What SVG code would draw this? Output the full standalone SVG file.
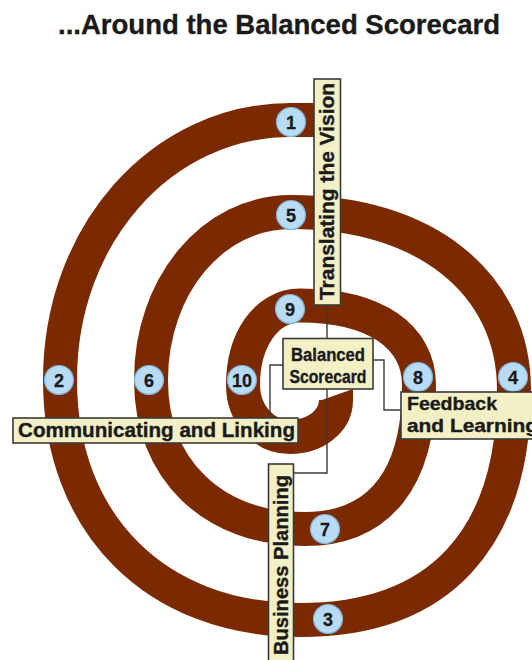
<svg xmlns="http://www.w3.org/2000/svg" width="532" height="660" viewBox="0 0 532 660">
<style>
.band{fill:none;stroke:#7b2a00;stroke-width:34;stroke-linecap:butt;stroke-linejoin:round}
.num circle{fill:#b8dcf6;stroke:#7fb0d6;stroke-width:1.2}
.num text{font-family:"Liberation Sans",Arial,sans-serif;font-weight:bold;font-size:18px;fill:#1a1a1a;text-anchor:middle;stroke:#1a1a1a;stroke-width:0.3}
.box{fill:#f2f0c4;stroke:#3a3a3a;stroke-width:1.6}
.lbl{font-family:"Liberation Sans",Arial,sans-serif;font-weight:bold;fill:#1a1a1a;stroke:#1a1a1a;stroke-width:0.35}
.conn{fill:none;stroke:#3a3a3a;stroke-width:1.4}
</style>
<rect width="532" height="660" fill="#ffffff"/>
<text x="58" y="34" class="lbl" font-size="28" textLength="442" lengthAdjust="spacingAndGlyphs">...Around the Balanced Scorecard</text>

<g id="spiral">
<path class="band" d="M330 120 L291 120 C161.6 120 60 234.4 60 380 C60 524 156 620 300 620 C439.1 620 514 539.5 514 390 C514 283.2 424.8 212 291 212 C212.6 212 151 285.9 151 380 C151 469.4 212.6 529 305 529 C379.1 529 419 478.6 419 385 C419 337.3 376 305.5 300 305.5 C266 305.5 243 340.5 243 385 C243 414.1 263.7 437 290 437 C315.8 437 336 420.7 336 400"/>
<polygon points="319,401 353,401 353,389" fill="#7b2a00"/>
</g>

<g id="numbers" class="num">
<g id="n1"><circle cx="291" cy="122" r="14.5"/><text x="291" y="128.5">1</text></g>
<g id="n2"><circle cx="59" cy="380" r="14.5"/><text x="59" y="386.5">2</text></g>
<g id="n3"><circle cx="328" cy="619" r="14.5"/><text x="328" y="625.5">3</text></g>
<g id="n4"><circle cx="513" cy="377" r="14.5"/><text x="513" y="383.5">4</text></g>
<g id="n5"><circle cx="291" cy="215" r="14.5"/><text x="291" y="221.5">5</text></g>
<g id="n6"><circle cx="149" cy="380" r="14.5"/><text x="149" y="386.5">6</text></g>
<g id="n7"><circle cx="325" cy="529" r="14.5"/><text x="325" y="535.5">7</text></g>
<g id="n8"><circle cx="418" cy="377" r="14.5"/><text x="418" y="383.5">8</text></g>
<g id="n9"><circle cx="290" cy="309" r="14.5"/><text x="290" y="315.5">9</text></g>
<g id="n10"><circle cx="242" cy="380" r="14.5"/><text x="242" y="386.5" font-size="17" textLength="20" lengthAdjust="spacingAndGlyphs">10</text></g>
</g>

<g id="connectors">
<path class="conn" d="M327 305 V338"/>
<path class="conn" d="M283 365 H270 V418"/>
<path class="conn" d="M327 389 V473 H293.5"/>
<path class="conn" d="M373 360 H384 V410 H401"/>
</g>

<g id="translating">
<rect class="box" x="314" y="79" width="26.5" height="226"/>
<text class="lbl" font-size="19.5" transform="translate(334,300) rotate(-90)" textLength="217" lengthAdjust="spacingAndGlyphs">Translating the Vision</text>
</g>

<g id="communicating">
<rect class="box" x="13" y="418" width="285" height="25"/>
<text class="lbl" x="18" y="437" font-size="19.5" textLength="277" lengthAdjust="spacingAndGlyphs">Communicating and Linking</text>
</g>

<g id="business">
<rect class="box" x="268.5" y="464" width="25" height="210"/>
<text class="lbl" font-size="19.5" transform="translate(288,655) rotate(-90)" textLength="180" lengthAdjust="spacingAndGlyphs">Business Planning</text>
</g>

<g id="feedback">
<rect class="box" x="401" y="392" width="140" height="47"/>
<text class="lbl" x="407" y="410" font-size="18.5" textLength="90" lengthAdjust="spacingAndGlyphs">Feedback</text>
<text class="lbl" x="407" y="432" font-size="18.5" textLength="131" lengthAdjust="spacingAndGlyphs">and Learning</text>
</g>

<g id="balanced">
<rect class="box" x="283" y="338.5" width="90" height="50.5"/>
<text class="lbl" x="328" y="361" font-size="18" text-anchor="middle" textLength="74" lengthAdjust="spacingAndGlyphs">Balanced</text>
<text class="lbl" x="328" y="383" font-size="18" text-anchor="middle" textLength="77" lengthAdjust="spacingAndGlyphs">Scorecard</text>
</g>
</svg>
